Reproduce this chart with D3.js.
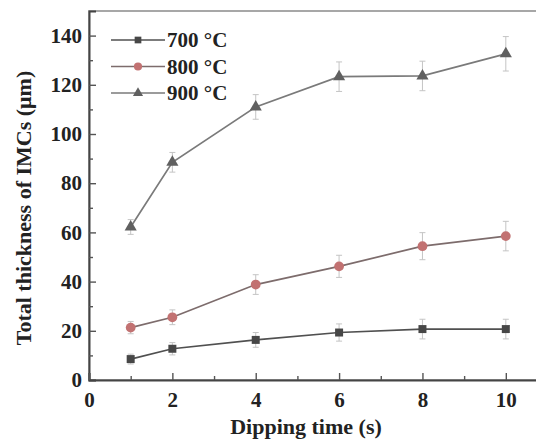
<!DOCTYPE html>
<html>
<head>
<meta charset="utf-8">
<script src="https://cdn.jsdelivr.net/npm/d3@7"></script>
<style>
  body { margin: 0; background: #fff; }
  text { font-family: "Liberation Serif", "Times New Roman", serif; font-weight: bold; fill: #222; }
</style>
</head>
<body>
<svg id="chart" width="536" height="444"></svg>
<script>
// data
const times = [1, 2, 4, 6, 8, 10];
const series700 = [8.5, 12.7, 16.3, 19.3, 20.7, 20.7];
const err700 = [2, 2.5, 3, 3.5, 4, 4];
const series800 = [21.3, 25.5, 38.8, 46.2, 54.4, 58.5];
const err800 = [2.5, 3, 4, 4.5, 5.5, 6];
const series900 = [62.2, 88.5, 111, 123.3, 123.6, 132.6];
const err900 = [3, 4, 5, 6, 6, 7];
const yTicks = [0, 20, 40, 60, 80, 100, 120, 140];
const xTicks = [0, 2, 4, 6, 8, 10];

const seriesList = [
  { label: '700 \u00b0C', values: series700, errs: err700, color: '#474747', line: '#505050', shape: d3.symbolSquare, size: 64 },
  { label: '800 \u00b0C', values: series800, errs: err800, color: '#c27272', line: '#7d6c6c', shape: d3.symbolCircle, size: 75 },
  { label: '900 \u00b0C', values: series900, errs: err900, color: '#606060', line: '#7a7a7a', shape: d3.symbolTriangle, size: 64 }
];

const dims = { left: 89, top: 11, bottom: 380, right: 560 };
const svg = d3.select('#chart');

const x = d3.scaleLinear().domain([0, 11.3]).range([dims.left, dims.right]);
const y = d3.scaleLinear().domain([0, 150]).range([dims.bottom, dims.top]);

// frame
svg.append('rect')
  .attr('x', dims.left).attr('y', dims.top)
  .attr('width', dims.right - dims.left).attr('height', dims.bottom - dims.top)
  .attr('fill', 'none').attr('stroke', '#8a8a8a').attr('stroke-width', 1.5);

// y axis, ticks pointing inward
const yAxis = d3.axisLeft(y).tickValues(yTicks).tickSize(-7).tickPadding(7);
const gy = svg.append('g').attr('class', 'axis axis-y')
  .attr('transform', 'translate(' + dims.left + ',0)')
  .call(yAxis);
gy.selectAll('.tick text').attr('font-size', 21);
svg.append('g').attr('class', 'minor').attr('transform', 'translate(' + dims.left + ',0)')
  .call(d3.axisLeft(y).tickValues(d3.range(10, 150, 20)).tickSize(-4).tickFormat(''))
  .call(g => g.select('.domain').remove());

// x axis
const xAxis = d3.axisBottom(x).tickValues(xTicks).tickSize(-7).tickPadding(12);
const gx = svg.append('g').attr('class', 'axis axis-x')
  .attr('transform', 'translate(0,' + dims.bottom + ')')
  .call(xAxis);
gx.selectAll('.tick text').attr('font-size', 21);
svg.append('g').attr('class', 'minor').attr('transform', 'translate(0,' + dims.bottom + ')')
  .call(d3.axisBottom(x).tickValues([1, 3, 5, 7, 9, 11]).tickSize(-4).tickFormat(''))
  .call(g => g.select('.domain').remove());

svg.selectAll('.tick line').attr('stroke', '#555').attr('stroke-width', 1.4);
svg.selectAll('.axis .domain').attr('stroke', '#444').attr('stroke-width', 2);

// axis titles
svg.append('text')
  .attr('x', 306).attr('y', 434)
  .attr('text-anchor', 'middle').attr('font-size', 22)
  .text('Dipping time (s)');
svg.append('text')
  .attr('transform', 'translate(31,208) rotate(-90)')
  .attr('text-anchor', 'middle').attr('font-size', 22)
  .text('Total thickness of IMCs (\u03bcm)');

const line = d3.line().x(d => x(d[0])).y(d => y(d[1]));

seriesList.forEach(s => {
  const pts = times.map((t, i) => [t, s.values[i], s.errs[i]]);
  const g = svg.append('g');
  // error bars
  g.selectAll('.err').data(pts).enter().append('path')
    .attr('d', d => {
      const cx = x(d[0]), y1 = y(d[1] + d[2]), y2 = y(d[1] - d[2]);
      return 'M' + (cx - 3) + ',' + y1 + 'H' + (cx + 3) + 'M' + cx + ',' + y1 + 'V' + y2 + 'M' + (cx - 3) + ',' + y2 + 'H' + (cx + 3);
    })
    .attr('stroke', '#c4c4c4').attr('stroke-width', 1).attr('fill', 'none');
  g.append('path').datum(pts)
    .attr('d', line).attr('fill', 'none')
    .attr('stroke', s.line).attr('stroke-width', 1.7);
  g.selectAll('.pt').data(pts).enter().append('path')
    .attr('transform', d => 'translate(' + x(d[0]) + ',' + y(d[1]) + ')')
    .attr('d', d3.symbol().type(s.shape).size(s.size))
    .attr('fill', s.color);
});

// legend
const legend = svg.append('g');
seriesList.forEach((s, i) => {
  const ly = 40 + i * 26.5;
  legend.append('line')
    .attr('x1', 111).attr('x2', 165).attr('y1', ly).attr('y2', ly)
    .attr('stroke', s.line).attr('stroke-width', 1.6);
  legend.append('path')
    .attr('transform', 'translate(138,' + ly + ')')
    .attr('d', d3.symbol().type(s.shape).size(s.size * 0.7))
    .attr('fill', s.color);
  legend.append('text')
    .attr('x', 167).attr('y', ly + 7)
    .attr('font-size', 21)
    .text(s.label);
});
</script>
</body>
</html>
